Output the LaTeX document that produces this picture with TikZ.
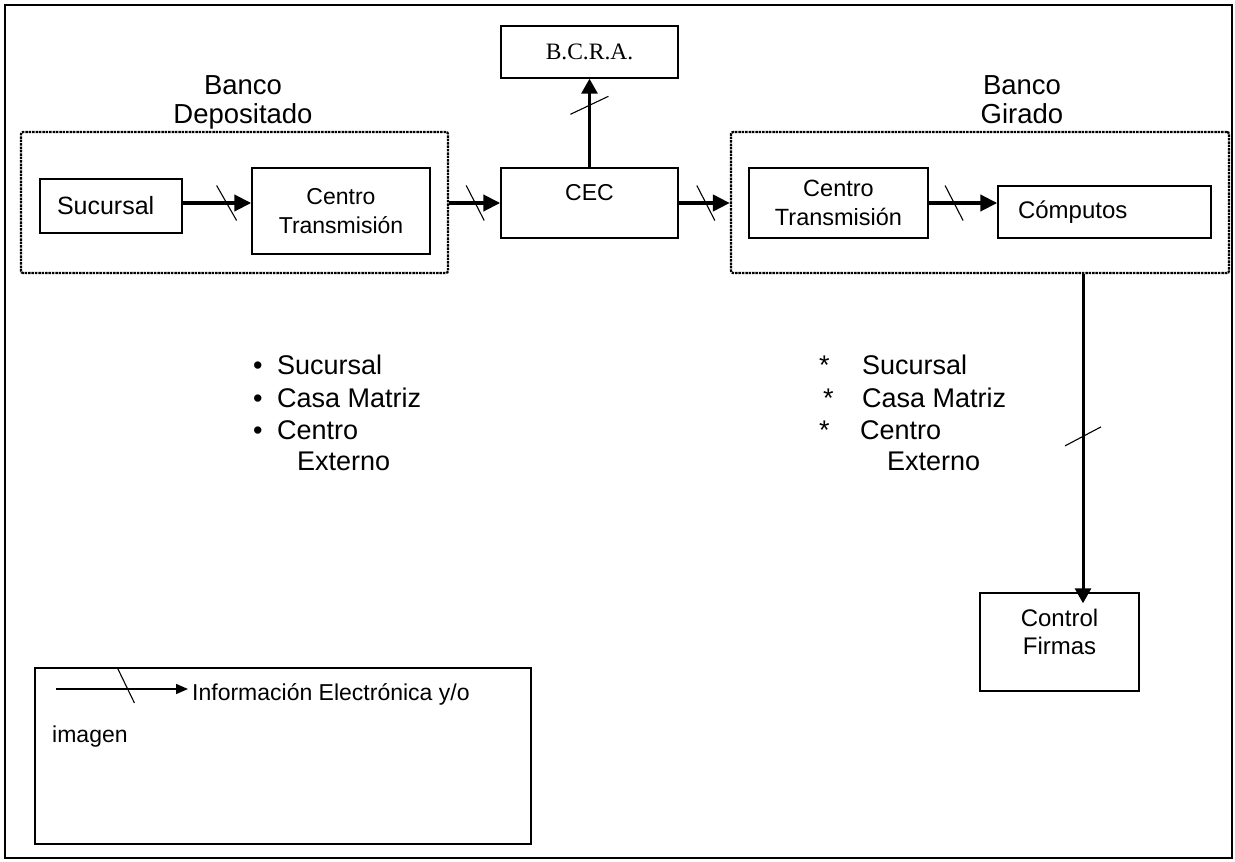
\documentclass[tikz,border=0pt]{standalone}
\usepackage{fontspec}
\setmainfont{Liberation Sans}
\newfontfamily\tnrfont{Liberation Serif}
\usetikzlibrary{arrows.meta,calc}
\begin{document}
\begin{tikzpicture}[x=1pt,y=-1pt,
  box/.style={draw, line width=1.4pt, inner sep=0pt, align=center, font=\fontsize{23}{28.5}\selectfont},
  grp/.style={draw, line width=2.2pt, dash pattern=on 2.5pt off 0.9pt, rounded corners=2pt, inner sep=0pt},
  arr/.style={line width=4pt, -{Triangle[length=17pt,width=16pt]}},
  varr/.style={line width=3pt, -{Triangle[length=15pt,width=16pt]}},
  sl/.style={line width=1.1pt},
  hdr/.style={anchor=base, inner sep=0pt, font=\fontsize{27.5}{32}\selectfont},
  lst/.style={anchor=base west, inner sep=0pt, font=\fontsize{27}{32}\selectfont},
  txt/.style={inner sep=0pt, font=\fontsize{23}{28.5}\selectfont}
]
\useasboundingbox (0,0) rectangle (1235,862);
\node[draw, line width=2pt, minimum width=1227, minimum height=853, inner sep=0pt] (frame) at (618.5,431.5) {};

% groups
\node[grp, minimum width=427, minimum height=141] (ldep) at (234.5,202.5) {};
\node[grp, minimum width=498, minimum height=141] (rgir) at (980,202.5) {};

% headers
\node[hdr] (bd1) at (243,94) {Banco};
\node[hdr] (bd2) at (243,123) {Depositado};
\node[hdr] (bg1) at (1022,94) {Banco};
\node[hdr] (bg2) at (1022,123) {Girado};

% boxes
\node[box, minimum height=54, text width=108pt, inner xsep=17pt, align=left, font=\fontsize{25}{30}\selectfont] (suc) at (111,206) {Sucursal};
\node[box, minimum width=178, minimum height=86] (ctl) at (341,211) {Centro\\Transmisión};
\node[box, minimum width=177, text height=32pt, text depth=38pt] (cec) at (589.5,203) {CEC};
\node[box, minimum width=177, minimum height=52, font=\tnrfont\fontsize{23.5}{28}\selectfont] (bcra) at (589.5,52) {B.C.R.A.};
\node[box, minimum width=179, minimum height=70, font=\fontsize{23.5}{29}\selectfont] (ctr) at (838.5,203) {Centro\\Transmisión};
\node[box, minimum height=52, text width=173pt, inner xsep=20pt, align=left, font=\fontsize{24}{29}\selectfont] (comp) at (1104.5,212) {Cómputos};
\node[box, minimum width=159, minimum height=98] (cf) at (1059.5,642) {};
\node[txt, align=center, font=\fontsize{24}{28}\selectfont] (cftxt) at (1059.5,632) {Control\\Firmas};

% connector end points
\path ([yshift=3pt]suc.east) coordinate (a1s) (a1s -| ctl.west) coordinate (a1e);
\path (ldep.east |- cec.west) coordinate (a2s);
\path (cec.east -| rgir.west) coordinate (a3e);
\path (ctr.east -| comp.west) coordinate (a4e);
\path ([xshift=103pt]rgir.south) coordinate (gv);
\path (gv |- cf.north) coordinate (gve);

% arrows
\draw[arr] (a1s) -- (a1e);
\draw[arr] (a2s) -- (cec.west);
\draw[arr] (cec.east) -- (a3e);
\draw[arr] (ctr.east) -- (a4e);
\draw[varr] (cec.north) -- (bcra.south);
\draw[varr, shorten >=-11pt] (gv) -- (gve);

% slashes
\draw[sl] ($(a1s)!0.64!(a1e)$) +(-10,-17.5) -- +(10,17.5);
\draw[sl] ($(a2s)!0.51!(cec.west)$) +(-9,-17.5) -- +(9,17.5);
\draw[sl] ($(cec.east)!0.53!(a3e)$) +(-9,-17.5) -- +(9,17.5);
\draw[sl] ($(ctr.east)!0.37!(a4e)$) +(-9,-17.5) -- +(9,17.5);
\draw[sl] ($(cec.north)!0.7!(bcra.south)$) +(-19,9) -- +(19,-9);
\draw[sl] ($(gv)!0.51!(gve)$) +(-18,9.5) -- +(18,-9.5);

% lists
\foreach \yy/\lbl [count=\i] in {374/Sucursal, 407/Casa Matriz, 439/Centro} {
  \node[lst] (lb\i) at (253,\yy) {•};
  \node[lst] (lt\i) at (277,\yy) {\lbl};
}
\node[lst] (lt4) at (297,470) {Externo};
\node[lst] (ra1) at (819,374) {*};
\node[lst] (ra2) at (823,407) {*};
\node[lst] (ra3) at (819,439) {*};
\node[lst] (rt1) at (862,374) {Sucursal};
\node[lst] (rt2) at (862,407) {Casa Matriz};
\node[lst] (rt3) at (860,439) {Centro};
\node[lst] (rt4) at (887,470) {Externo};

% legend
\node[draw, line width=1.4pt, minimum width=496, minimum height=176, inner sep=0pt] (leg) at (283,756) {};
\coordinate (la) at (56,689);
\coordinate (lb) at (188,689);
\draw[line width=1.5pt, -{Triangle[length=12pt,width=10pt]}] (la) -- (lb);
\draw[sl] ($(la)!0.53!(lb)$) +(-8.5,-21) -- +(8.5,14);
\node[txt, anchor=base west] (legt) at (192,700) {Información Electrónica y/o};
\node[txt, anchor=base west] (legi) at (52,742) {imagen};
\end{tikzpicture}
\end{document}
